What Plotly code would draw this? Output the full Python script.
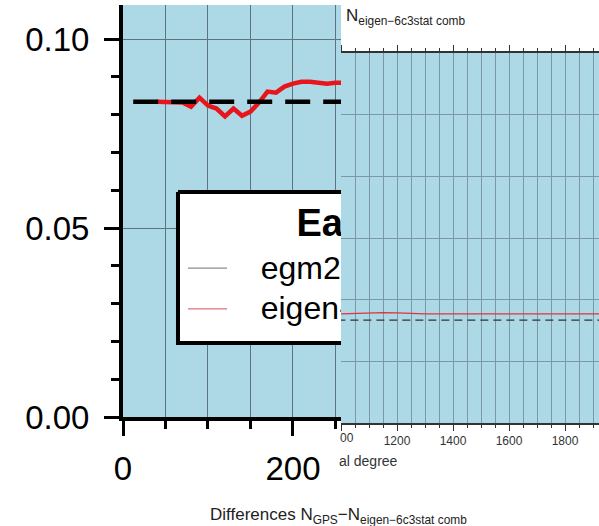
import plotly.graph_objects as go

W, H = 599, 526

# ---------------- data ----------------
eigen_deg = [40, 50, 60, 70, 80, 90, 100, 110, 120, 130, 140, 150, 160, 170, 180, 190,
             200, 210, 220, 230, 240, 250, 260, 300, 400, 500, 600, 700, 800, 900, 1000,
             1050, 1100, 1150, 1200, 1250, 1300, 1400, 1500, 1600, 1700, 1800, 1900, 2000,
             2100, 2190]
eigen_val = [0.0834, 0.0834, 0.0834, 0.0832, 0.0821, 0.0845, 0.0824, 0.0816, 0.0795, 0.0816,
             0.0797, 0.0808, 0.0832, 0.0861, 0.0858, 0.0874, 0.0882, 0.0887, 0.0887, 0.0885,
             0.0882, 0.0884, 0.0884, 0.0885, 0.0886, 0.0886, 0.0887, 0.0887, 0.0886, 0.0886,
             0.0885, 0.0889, 0.0893, 0.0895, 0.0893, 0.0889, 0.0885, 0.0884, 0.0884, 0.0884,
             0.0884, 0.0884, 0.0884, 0.0884, 0.0884, 0.0884]

mean_deg = [12, 2190]
mean_val = [0.0834, 0.0834]

y_ticks_main = [0.0, 0.05, 0.10]
x_ticks_main = [0, 200]
x_ticks_inset = [1000, 1200, 1400, 1600, 1800, 2000]
x_ticktext_inset = ["", "1200", "1400", "1600", "1800", "2000"]

legend_title = "Earth gravity models"
legend_names = ["egm2008", "eigen-6c3stat comb"]

FONT = "Liberation Sans, Arial, Helvetica, sans-serif"
BLUE = "#add8e6"
RED = "#e8161c"

def px(x):
    return x / W

def py(y):
    return 1 - y / H

fig = go.Figure()

# ---------- zoomed main view (x, y) ----------
fig.add_trace(go.Scatter(x=eigen_deg, y=eigen_val, mode="lines",
                         line=dict(color=RED, width=4.5), xaxis="x", yaxis="y"))
fig.add_trace(go.Scatter(x=mean_deg, y=mean_val, mode="lines",
                         line=dict(color="black", width=4.5, dash="25px,13px"),
                         xaxis="x", yaxis="y"))

# legend box (clipped by the plot area)
fig.add_trace(go.Scatter(x=[64.7, 400, 400, 64.7, 64.7],
                         y=[0.0595, 0.0595, 0.0196, 0.0196, 0.0595],
                         mode="lines", fill="toself", fillcolor="white",
                         line=dict(color="black", width=4), xaxis="x", yaxis="y"))
fig.add_trace(go.Scatter(x=[76.5, 122.4], y=[0.0394, 0.0394], mode="lines",
                         line=dict(color="#8c8c8c", width=1.2), xaxis="x", yaxis="y"))
fig.add_trace(go.Scatter(x=[76.5, 122.4], y=[0.0286, 0.0286], mode="lines",
                         line=dict(color="#d9737a", width=1.2), xaxis="x", yaxis="y"))
fig.add_trace(go.Scatter(x=[204], y=[0.0505], mode="text",
                         text=["<b>" + legend_title + "</b>"], textposition="middle right",
                         textfont=dict(family=FONT, size=38, color="black"),
                         cliponaxis=True, xaxis="x", yaxis="y"))
fig.add_trace(go.Scatter(x=[162, 162], y=[0.0386, 0.0280], mode="text",
                         text=legend_names, textposition="middle right",
                         textfont=dict(family=FONT, size=32, color="black"),
                         cliponaxis=True, xaxis="x", yaxis="y"))

# ---------- inset (x2, y2) ----------
fig.add_trace(go.Scatter(x=eigen_deg, y=eigen_val, mode="lines",
                         line=dict(color="#e03340", width=1.3),
                         xaxis="x2", yaxis="y2"))
fig.add_trace(go.Scatter(x=mean_deg, y=mean_val, mode="lines",
                         line=dict(color="#333333", width=1.3, dash="8px,5px"),
                         xaxis="x2", yaxis="y2"))

GRID_MAIN = "#5d7480"
GRID_INSET = "#7a98a5"

fig.update_layout(
    width=W, height=H,
    margin=dict(l=0, r=0, t=0, b=0, pad=0, autoexpand=False),
    paper_bgcolor="white", plot_bgcolor=BLUE,
    showlegend=False, hovermode=False,
    font=dict(family=FONT, color="black"),
    xaxis=dict(domain=[px(123), px(341)], range=[0, 256.5], anchor="y", automargin=False,
               tickmode="array", tickvals=x_ticks_main, ticktext=[str(v) for v in x_ticks_main],
               ticks="outside", ticklen=15, tickwidth=2.5, tickcolor="black",
               showline=True, linewidth=4, linecolor="black", zeroline=False,
               showgrid=False,
               minor=dict(tickmode="linear", tick0=0, dtick=50, ticks="outside", ticklen=8,
                          tickwidth=2.5, tickcolor="black", showgrid=True,
                          gridcolor=GRID_MAIN, gridwidth=1.3),
               tickfont=dict(family=FONT, size=33, color="black"), ticklabelstandoff=4),
    yaxis=dict(domain=[py(417), py(5)], range=[0, 0.109], anchor="x", automargin=False,
               tickmode="array", tickvals=y_ticks_main,
               ticktext=["%.2f" % v for v in y_ticks_main],
               ticks="outside", ticklen=15, tickwidth=2.5, tickcolor="black",
               showline=True, linewidth=4, linecolor="black", zeroline=False,
               showgrid=True, gridcolor=GRID_MAIN, gridwidth=1.3,
               minor=dict(tickmode="linear", tick0=0, dtick=0.01, ticks="outside", ticklen=8,
                          tickwidth=2.5, tickcolor="black", showgrid=False),
               tickfont=dict(family=FONT, size=33, color="black"), ticklabelstandoff=8),
    xaxis2=dict(domain=[px(341), 1], range=[1000, 1921.4], anchor="y2", automargin=False,
                tickmode="array", tickvals=x_ticks_inset, ticktext=x_ticktext_inset,
                ticks="outside", ticklen=6, tickwidth=1, tickcolor="#333333",
                showline=True, mirror="ticks", linewidth=1.5, linecolor="#333333",
                zeroline=False, showgrid=True, gridcolor=GRID_INSET, gridwidth=1,
                minor=dict(tickmode="linear", tick0=0, dtick=50, ticks="outside", ticklen=3,
                           tickwidth=1, tickcolor="#333333", showgrid=True,
                           gridcolor=GRID_INSET, gridwidth=1),
                tickfont=dict(family=FONT, size=12, color="#333333")),
    yaxis2=dict(domain=[py(423), py(53)], range=[0, 0.3], anchor="x2", automargin=False,
                dtick=0.05, tick0=0, showticklabels=False, ticks="",
                showline=False, zeroline=False, showgrid=True,
                gridcolor=GRID_INSET, gridwidth=1),
)

fig.add_annotation(xref="paper", yref="paper", x=px(344), y=py(17),
                   xanchor="left", yanchor="middle", showarrow=False,
                   text="N<sub>eigen−6c3stat comb</sub>",
                   font=dict(family=FONT, size=17, color="#222222"))
fig.add_annotation(xref="paper", yref="paper", x=px(338), y=py(516),
                   xanchor="center", yanchor="middle", showarrow=False,
                   text="Differences N<sub>GPS</sub>−N<sub>eigen−6c3stat comb</sub>",
                   font=dict(family=FONT, size=17, color="#222222"))
fig.add_annotation(xref="paper", yref="paper", x=px(338), y=py(438),
                   xanchor="left", yanchor="middle", showarrow=False,
                   text="00", font=dict(family=FONT, size=12, color="#333333"))
fig.add_annotation(xref="paper", yref="paper", x=px(337), y=py(461),
                   xanchor="left", yanchor="middle", showarrow=False,
                   text="al degree", font=dict(family=FONT, size=14, color="#333333"))

fig.write_html("out.html", config={"displayModeBar": False},
               post_script="document.body.style.margin='0px';")
